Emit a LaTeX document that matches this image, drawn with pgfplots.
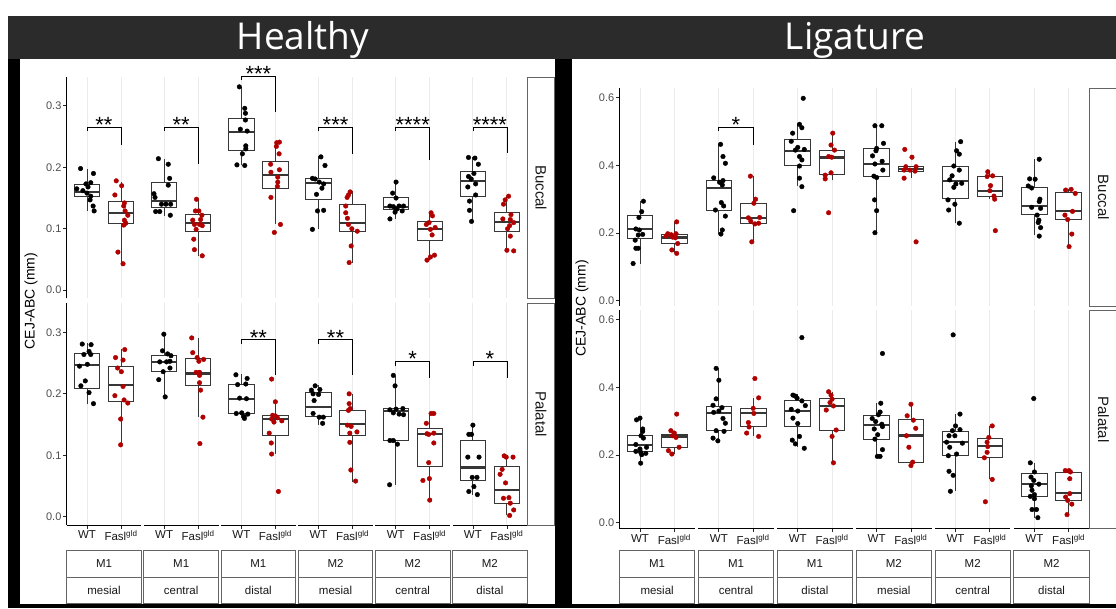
\documentclass[border=0pt]{standalone}
\usepackage{fontspec}
\setmainfont{Liberation Sans}
\newfontfamily\titlefont{Open Sans}
\usepackage{pgfplots}
\pgfplotsset{compat=1.18}
\usepgfplotslibrary{statistics}
\definecolor{ptred}{RGB}{176,0,0}
\definecolor{boxc}{RGB}{55,55,55}
\definecolor{gridc}{RGB}{235,235,235}
\definecolor{tickc}{RGB}{77,77,77}
\definecolor{barc}{RGB}{43,43,43}
\definecolor{stripc}{RGB}{100,100,100}

\newcommand{\bp}[6]{\addplot[boxst, boxplot prepared={draw position=#1, lower whisker=#2, lower quartile=#3, median=#4, upper quartile=#5, upper whisker=#6}] coordinates {};}
\newcommand{\pts}[3]{\addplot[only marks, mark=*, mark size=2.3pt, color=#1, x filter/.expression={x+#2}] coordinates {#3};}
\newcommand{\brk}[7]{%
 \draw[black, line width=0.8pt] (axis cs:#1,#5) -- (axis cs:#1,#4) -- (axis cs:#2,#4) -- (axis cs:#2,#6);
 \node[anchor=base, inner sep=0pt, font=\fontsize{22}{22}\selectfont, yshift=-5.5pt] at (axis cs:#3,#4) {#7};}

\pgfplotsset{
 facet/.style={scale only axis, clip=false,
   axis y line*=left, axis x line*=bottom,
   x axis line style={draw=none},
   y axis line style={black, line width=0.9pt},
   tick align=outside, major tick length=3.5pt,
   ytick style={black!85, line width=0.8pt},
   xtick style={black!85, line width=0.8pt},
   xmajorgrids, major x grid style={gridc, line width=0.9pt},
   yticklabel style={font=\fontsize{11}{11}\selectfont, text=tickc, inner sep=1.5pt},
   xticklabel style={font=\fontsize{11.5}{11.5}\selectfont, text=black!90, inner sep=2pt},
   boxplot/draw direction=y,
 },
 leftf/.style={facet, width=460.7pt, height=221.5pt, xmin=0.4, xmax=13.95, ymin=-0.0135, ymax=0.347,
   xtick={1,2,3.27,4.27,5.54,6.54,7.81,8.81,10.08,11.08,12.35,13.35},
   ytick={0,0.1,0.2,0.3}, yticklabels={0.0,0.1,0.2,0.3}},
 rightf/.style={facet, width=469.9pt, height=218pt, xmin=0.4, xmax=14.1, ymin=-0.017, ymax=0.627,
   xtick={1,2,3.3,4.3,5.6,6.6,7.9,8.9,10.2,11.2,12.5,13.5},
   ytick={0,0.2,0.4,0.6}, yticklabels={0.0,0.2,0.4,0.6}},
 toprow/.style={xticklabels={}, xtick style={draw=none}},
 botrow/.style={xticklabels={WT,Fasl\textsuperscript{gld},WT,Fasl\textsuperscript{gld},WT,Fasl\textsuperscript{gld},WT,Fasl\textsuperscript{gld},WT,Fasl\textsuperscript{gld},WT,Fasl\textsuperscript{gld}}},
 boxst/.style={draw=boxc, fill=white, line width=0.9pt, boxplot/draw direction=y, boxplot/box extend=0.75, boxplot/whisker extend=0, boxplot/every median/.style={line width=2.2pt}},
}

\begin{document}
\begin{tikzpicture}
\path[use as bounding box] (0pt,0pt) rectangle (1116pt,608pt);
\begin{scope}[x=1pt,y=1pt]
\fill[white] (0,0) rectangle (1116,608);
\fill[black] (7.5,0) rectangle (1116,592);
\fill[barc] (7.5,549) rectangle (1116,592);
\fill[white] (20,4) rectangle (555,549);
\fill[white] (572,4) rectangle (1116,549);
\node[anchor=base, text=white, font=\titlefont\fontsize{37}{37}\selectfont] at (303,558) {Healthy};
\node[anchor=base, text=white, font=\titlefont\fontsize{37}{37}\selectfont] at (855,558) {Ligature};
\node[rotate=90, font=\fontsize{14}{14}\selectfont] at (31,307) {CEJ-ABC (mm)};
\node[rotate=90, font=\fontsize{14}{14}\selectfont] at (582,299.5) {CEJ-ABC (mm)};
\end{scope}

% ---------------- Healthy / Buccal
\begin{axis}[leftf, toprow, at={(66.6pt,309.5pt)}, anchor=south west]
\bp{1}{.129}{.152}{.160}{.172}{.197}
\bp{2}{.043}{.109}{.126}{.145}{.176}
\bp{3.27}{.121}{.135}{.145}{.175}{.214}
\bp{4.27}{.056}{.096}{.110}{.123}{.148}
\bp{5.54}{.203}{.227}{.257}{.279}{.331}
\bp{6.54}{.107}{.166}{.187}{.209}{.241}
\bp{7.81}{.099}{.148}{.175}{.182}{.218}
\bp{8.81}{.045}{.096}{.110}{.140}{.161}
\bp{10.08}{.116}{.131}{.136}{.151}{.176}
\bp{11.08}{.049}{.081}{.099}{.112}{.128}
\bp{12.35}{.112}{.153}{.178}{.193}{.217}
\bp{13.35}{.064}{.096}{.111}{.127}{.153}
\pts{black}{1}{(-0.19,.198)(0.19,.190)(0.11,.175)(-0.03,.173)(0.03,.168)(-0.30,.165)(-0.12,.162)(0,.158)(0.11,.153)(0.09,.147)(0.18,.137)(0.21,.129)}
\pts{ptred}{2}{(-0.14,.178)(0.02,.170)(-0.18,.155)(0.10,.142)(0.08,.137)(0.12,.129)(0.20,.122)(0.10,.114)(0.14,.109)(0.08,.106)(-0.09,.062)(0.06,.043)}
\pts{black}{3.27}{(-0.17,.214)(0.12,.205)(0.16,.182)(0.12,.171)(-0.30,.157)(-0.27,.151)(-0.08,.140)(0.05,.140)(0.19,.140)(-0.25,.128)(-0.13,.128)(0.18,.122)}
\pts{ptred}{4.27}{(-0.05,.148)(-0.08,.129)(0.02,.129)(0.11,.122)(-0.16,.114)(0.07,.115)(-0.11,.107)(0.04,.107)(0.12,.105)(-0.06,.099)(-0.13,.083)(-0.11,.066)(0.12,.056)}
\pts{black}{5.54}{(-0.06,.331)(0.10,.296)(0.12,.288)(0.12,.277)(-0.03,.262)(0.17,.259)(0.13,.235)(0.13,.230)(0.03,.222)(-0.13,.204)(0.10,.203)}
\pts{ptred}{6.54}{(0.04,.240)(0.12,.241)(0.03,.234)(0.11,.222)(-0.14,.205)(0.12,.196)(-0.13,.192)(0.07,.184)(0.07,.176)(0.06,.169)(-0.13,.151)(0.15,.107)(-0.03,.094)}
\pts{black}{7.81}{(0.07,.217)(0.19,.203)(-0.18,.182)(-0.10,.181)(0.02,.176)(0.15,.173)(0.10,.166)(-0.06,.156)(-0.03,.129)(0.15,.130)(-0.18,.099)}
\pts{ptred}{8.81}{(-0.07,.160)(-0.12,.155)(-0.16,.151)(-0.20,.137)(-0.20,.126)(-0.15,.117)(-0.12,.107)(-0.02,.100)(0.14,.096)(-0.04,.072)(-0.10,.045)}
\pts{black}{10.08}{(0.01,.176)(-0.09,.158)(0.01,.150)(-0.17,.137)(-0.07,.136)(0.10,.137)(0.23,.137)(0.03,.132)(0.19,.129)(-0.02,.127)(-0.17,.116)}
\pts{ptred}{11.08}{(0.04,.126)(0.08,.121)(-0.02,.110)(-0.10,.107)(0.16,.102)(0.02,.099)(0.07,.090)(0.14,.057)(0.02,.054)(-0.08,.049)}
\pts{black}{12.35}{(-0.13,.216)(0.06,.215)(0.16,.205)(0.03,.190)(-0.13,.185)(-0.05,.181)(-0.15,.168)(0.08,.173)(0.08,.155)(-0.10,.145)(-0.10,.130)(-0.04,.112)}
\pts{ptred}{13.35}{(0.05,.153)(-0.05,.147)(-0.10,.140)(0.12,.123)(-0.12,.116)(0.10,.115)(0.20,.110)(0.08,.105)(0.02,.100)(0.10,.088)(0.00,.065)(0.20,.064)}
\brk{1}{2}{1.5}{.265}{.259}{.236}{**}
\brk{3.27}{4.27}{3.77}{.265}{.259}{.206}{**}
\brk{5.54}{6.54}{6.04}{.3485}{.342}{.290}{***}
\brk{7.81}{8.81}{8.31}{.265}{.259}{.221}{***}
\brk{10.08}{11.08}{10.58}{.265}{.259}{.212}{****}
\brk{12.35}{13.35}{12.85}{.265}{.259}{.223}{****}
\end{axis}

% ---------------- Healthy / Palatal
\begin{axis}[leftf, botrow, at={(66.6pt,83pt)}, anchor=south west]
\bp{1}{.184}{.209}{.247}{.265}{.283}
\bp{2}{.116}{.188}{.214}{.245}{.273}
\bp{3.27}{.195}{.236}{.252}{.263}{.298}
\bp{4.27}{.162}{.214}{.233}{.257}{.291}
\bp{5.54}{.160}{.168}{.192}{.216}{.232}
\bp{6.54}{.102}{.133}{.159}{.165}{.187}
\bp{7.81}{.150}{.163}{.179}{.202}{.214}
\bp{8.81}{.057}{.133}{.151}{.173}{.200}
\bp{10.08}{.052}{.124}{.172}{.176}{.229}
\bp{11.08}{.027}{.081}{.134}{.143}{.168}
\bp{12.35}{.036}{.059}{.080}{.124}{.149}
\bp{13.35}{.002}{.021}{.043}{.082}{.099}
\pts{black}{1}{(-0.14,.281)(0.12,.280)(0.06,.269)(-0.09,.264)(0.11,.264)(-0.22,.245)(0.01,.248)(-0.05,.221)(-0.18,.213)(0.06,.202)(0.19,.184)}
\pts{ptred}{2}{(0.11,.272)(-0.16,.259)(0.06,.255)(-0.10,.242)(0.01,.236)(0.06,.212)(-0.18,.197)(0.09,.190)(0.20,.185)(-0.01,.159)(-0.01,.117)}
\pts{black}{3.27}{(-0.01,.297)(-0.05,.270)(0.10,.265)(0.20,.262)(-0.13,.252)(0.07,.252)(-0.03,.236)(0.17,.242)(-0.16,.223)(0.03,.195)(0.17,.253)}
\pts{ptred}{4.27}{(-0.19,.291)(-0.16,.267)(-0.03,.259)(0.16,.256)(0.02,.253)(-0.06,.235)(0.04,.235)(0.04,.230)(0.04,.218)(0.07,.206)(0.14,.162)(0.05,.119)}
\pts{black}{5.54}{(-0.16,.231)(0.17,.225)(0.13,.216)(-0.11,.215)(0.15,.192)(-0.05,.193)(-0.15,.168)(0.01,.169)(0.08,.163)(0.19,.167)(0.09,.160)}
\pts{ptred}{6.54}{(-0.11,.224)(0.00,.187)(-0.08,.165)(0.00,.164)(0.06,.161)(-0.11,.159)(0.19,.156)(-0.04,.154)(-0.18,.136)(-0.12,.120)(-0.11,.102)(0.09,.041)}
\pts{black}{7.81}{(-0.10,.213)(0.04,.207)(-0.21,.206)(-0.16,.200)(-0.13,.189)(-0.16,.168)(0.02,.162)(0.14,.162)(0.12,.152)(0.0,.199)}
\pts{ptred}{8.81}{(-0.10,.200)(-0.10,.184)(-0.12,.173)(-0.07,.176)(-0.04,.147)(-0.15,.149)(0.13,.138)(-0.08,.136)(-0.08,.121)(-0.05,.076)(0.09,.058)}
\pts{black}{10.08}{(-0.07,.230)(-0.02,.213)(-0.17,.174)(0.01,.175)(0.21,.176)(-0.07,.169)(0.10,.167)(0.23,.166)(-0.17,.124)(-0.07,.124)(0.05,.118)(-0.18,.052)}
\pts{ptred}{11.08}{(0.04,.168)(0.12,.168)(-0.10,.152)(-0.08,.135)(-0.03,.134)(0.12,.136)(0.12,.120)(-0.03,.088)(-0.01,.062)(-0.20,.059)(0.00,.027)}
\pts{black}{12.35}{(0.00,.149)(-0.12,.134)(-0.04,.134)(-0.15,.097)(0.18,.097)(-0.02,.064)(0.12,.064)(0.03,.049)(-0.12,.041)(0.13,.036)}
\pts{ptred}{13.35}{(-0.08,.099)(-0.02,.097)(0.18,.097)(-0.14,.077)(-0.20,.069)(-0.04,.055)(-0.10,.030)(0.06,.031)(0.10,.022)(0.20,.011)(0.08,.002)}
\brk{5.54}{6.54}{6.04}{.288}{.281}{.230}{**}
\brk{7.81}{8.81}{8.31}{.288}{.281}{.230}{**}
\brk{10.08}{11.08}{10.58}{.253}{.246}{.225}{*}
\brk{12.35}{13.35}{12.85}{.253}{.246}{.225}{*}
\draw[black, line width=0.9pt] (axis cs:0.4,-0.0135) -- (axis cs:2.6,-0.0135);
\draw[black, line width=0.9pt] (axis cs:2.67,-0.0135) -- (axis cs:4.87,-0.0135);
\draw[black, line width=0.9pt] (axis cs:4.94,-0.0135) -- (axis cs:7.14,-0.0135);
\draw[black, line width=0.9pt] (axis cs:7.21,-0.0135) -- (axis cs:9.41,-0.0135);
\draw[black, line width=0.9pt] (axis cs:9.48,-0.0135) -- (axis cs:11.68,-0.0135);
\draw[black, line width=0.9pt] (axis cs:11.75,-0.0135) -- (axis cs:13.95,-0.0135);
\end{axis}

% ---------------- Ligature / Buccal
\begin{axis}[rightf, toprow, at={(619.4pt,301.5pt)}, anchor=south west]
\bp{1}{.110}{.184}{.211}{.251}{.296}
\bp{2}{.140}{.169}{.187}{.197}{.233}
\bp{3.3}{.197}{.268}{.333}{.355}{.462}
\bp{4.3}{.174}{.227}{.245}{.288}{.369}
\bp{5.6}{.339}{.401}{.442}{.475}{.522}
\bp{6.6}{.357}{.373}{.423}{.445}{.497}
\bp{7.9}{.201}{.368}{.404}{.450}{.517}
\bp{8.9}{.362}{.383}{.390}{.398}{.398}
\bp{10.2}{.229}{.302}{.353}{.398}{.470}
\bp{11.2}{.300}{.307}{.324}{.367}{.381}
\bp{12.5}{.194}{.256}{.280}{.335}{.418}
\bp{13.5}{.160}{.240}{.265}{.319}{.329}
\pts{black}{1}{(0.10,.294)(0.05,.263)(-0.03,.246)(-0.12,.212)(-0.02,.209)(0.08,.196)(-0.05,.194)(-0.14,.179)(-0.05,.155)(-0.12,.155)(-0.20,.110)}
\pts{ptred}{2}{(0.07,.233)(-0.19,.198)(-0.09,.195)(0.05,.198)(-0.24,.191)(-0.05,.188)(0.03,.186)(0.10,.169)(-0.07,.150)(0.07,.140)}
\pts{black}{3.3}{(0.05,.462)(0.12,.426)(0.19,.406)(-0.15,.363)(0.12,.355)(0.02,.350)(0.10,.342)(0.07,.290)(0.14,.280)(-0.10,.268)(0.19,.250)(0.10,.209)(0.06,.197)}
\pts{ptred}{4.3}{(-0.08,.368)(0.07,.300)(0.02,.288)(-0.14,.245)(0.19,.246)(-0.07,.235)(0.05,.227)(0.16,.229)(-0.04,.174)}
\pts{black}{5.6}{(0.16,.598)(0.05,.521)(0.12,.511)(-0.15,.495)(-0.19,.471)(0.00,.453)(0.19,.447)(-0.07,.445)(0.05,.426)(0.12,.416)(0.05,.398)(0.05,.362)(0.12,.337)(-0.12,.266)}
\pts{ptred}{6.6}{(0.02,.495)(-0.03,.460)(0.07,.445)(-0.10,.426)(-0.01,.424)(-0.20,.371)(-0.03,.378)(-0.20,.360)(-0.10,.260)}
\pts{black}{7.9}{(-0.05,.517)(0.15,.517)(0.20,.465)(0.00,.450)(-0.02,.443)(-0.12,.428)(0.16,.412)(-0.05,.404)(0.18,.386)(-0.08,.368)(0.00,.364)(-0.06,.298)(0.00,.266)(-0.05,.201)}
\pts{ptred}{8.9}{(-0.18,.447)(0.03,.424)(-0.15,.396)(0.15,.396)(-0.20,.386)(-0.03,.386)(0.12,.383)(-0.20,.362)(0.15,.174)}
\pts{black}{10.2}{(0.15,.470)(0.03,.443)(0.11,.433)(-0.05,.398)(0.11,.386)(-0.10,.369)(-0.17,.357)(0.01,.345)(0.18,.347)(-0.05,.335)(-0.22,.298)(-0.02,.285)(-0.20,.268)(0.11,.229)}
\pts{ptred}{11.2}{(-0.06,.381)(0.08,.369)(-0.08,.367)(0.02,.340)(0.00,.325)(0.12,.309)(0.14,.300)(0.16,.207)}
\pts{black}{12.5}{(0.14,.418)(-0.14,.360)(0.02,.359)(-0.18,.339)(-0.08,.333)(0.16,.300)(0.14,.293)(-0.08,.276)(0.18,.273)(0.08,.253)(0.13,.238)(0.11,.231)(0.18,.216)(0.14,.191)}
\pts{ptred}{13.5}{(-0.09,.327)(0.07,.329)(0.19,.317)(0.11,.264)(-0.11,.253)(-0.03,.240)(0.09,.197)(0.01,.160)}
\brk{3.3}{4.3}{3.8}{.512}{.502}{.460}{*}
\end{axis}

% ---------------- Ligature / Palatal
\begin{axis}[rightf, botrow, at={(619.4pt,79.5pt)}, anchor=south west]
\bp{1}{.176}{.212}{.230}{.257}{.309}
\bp{2}{.203}{.223}{.255}{.260}{.272}
\bp{3.3}{.242}{.272}{.324}{.345}{.456}
\bp{4.3}{.255}{.283}{.324}{.337}{.368}
\bp{5.6}{.225}{.283}{.330}{.362}{.379}
\bp{6.6}{.177}{.274}{.345}{.368}{.387}
\bp{7.9}{.196}{.245}{.289}{.316}{.353}
\bp{8.9}{.169}{.179}{.258}{.304}{.350}
\bp{10.2}{.093}{.198}{.238}{.270}{.321}
\bp{11.2}{.128}{.192}{.226}{.250}{.286}
\bp{12.5}{.015}{.078}{.114}{.145}{.177}
\bp{13.5}{.022}{.066}{.088}{.150}{.159}
\pts{black}{1}{(0.00,.309)(-0.10,.304)(0.08,.277)(0.08,.270)(0.03,.257)(0.10,.250)(-0.12,.231)(0.19,.223)(0.00,.218)(-0.12,.211)(0.02,.208)(0.17,.205)(0.05,.201)(0.02,.176)}
\pts{ptred}{2}{(0.07,.321)(-0.10,.272)(0.00,.265)(-0.05,.257)(0.05,.252)(0.14,.223)(-0.17,.213)(-0.07,.203)}
\pts{black}{3.3}{(-0.08,.456)(0.00,.421)(-0.08,.366)(-0.17,.347)(0.00,.330)(0.09,.340)(-0.15,.326)(0.12,.308)(0.19,.294)(-0.08,.272)(0.15,.270)(-0.17,.250)(-0.03,.242)}
\pts{ptred}{4.3}{(0.05,.426)(0.16,.369)(0.00,.338)(0.02,.323)(-0.14,.296)(-0.12,.283)(-0.19,.265)(0.16,.255)}
\pts{black}{5.6}{(0.12,.547)(-0.14,.377)(-0.07,.374)(-0.02,.368)(0.12,.360)(0.22,.346)(-0.19,.335)(0.00,.330)(-0.14,.309)(0.00,.293)(0.05,.255)(-0.16,.244)(-0.07,.233)(0.19,.220)}
\pts{ptred}{6.6}{(-0.10,.387)(-0.03,.377)(0.00,.365)(-0.06,.355)(0.04,.345)(-0.17,.333)(0.00,.255)(0.12,.274)(0.04,.177)}
\pts{black}{7.9}{(0.17,.500)(0.12,.353)(0.10,.327)(0.05,.319)(-0.13,.308)(-0.03,.299)(0.15,.291)(0.17,.284)(-0.07,.277)(-0.05,.247)(0.03,.260)(0.17,.216)(0.02,.196)(0.10,.196)}
\pts{ptred}{8.9}{(0.00,.350)(-0.11,.316)(0.07,.303)(0.14,.279)(-0.13,.257)(-0.06,.223)(0.05,.179)(0.00,.169)}
\pts{black}{10.2}{(-0.07,.555)(0.13,.321)(0.00,.286)(-0.09,.272)(0.13,.275)(-0.19,.257)(-0.02,.257)(0.20,.235)(-0.26,.238)(-0.17,.223)(0.03,.203)(-0.21,.198)(-0.19,.152)(-0.07,.140)(-0.15,.093)}
\pts{ptred}{11.2}{(0.07,.286)(-0.03,.252)(-0.08,.238)(-0.06,.225)(-0.08,.208)(-0.16,.192)(0.07,.128)(-0.13,.062)}
\pts{black}{12.5}{(-0.02,.367)(-0.12,.177)(0.00,.150)(-0.10,.135)(-0.02,.125)(0.13,.114)(-0.09,.109)(-0.07,.096)(0.00,.083)(-0.12,.078)(0.00,.071)(-0.07,.039)(0.06,.039)(0.10,.015)}
\pts{ptred}{13.5}{(-0.10,.154)(0.01,.154)(0.05,.150)(0.03,.130)(0.03,.086)(-0.09,.076)(-0.03,.066)(0.09,.055)(-0.05,.024)}
\draw[black, line width=0.9pt] (axis cs:0.4,-0.017) -- (axis cs:2.6,-0.017);
\draw[black, line width=0.9pt] (axis cs:2.7,-0.017) -- (axis cs:4.9,-0.017);
\draw[black, line width=0.9pt] (axis cs:5.0,-0.017) -- (axis cs:7.2,-0.017);
\draw[black, line width=0.9pt] (axis cs:7.3,-0.017) -- (axis cs:9.5,-0.017);
\draw[black, line width=0.9pt] (axis cs:9.6,-0.017) -- (axis cs:11.8,-0.017);
\draw[black, line width=0.9pt] (axis cs:11.9,-0.017) -- (axis cs:14.1,-0.017);
\end{axis}

% ---------------- strips
\begin{scope}[x=1pt,y=1pt]
\draw[stripc, line width=0.9pt, fill=white] (527.3,309.5) rectangle (554.5,531);
\draw[stripc, line width=0.9pt, fill=white] (527.3,83) rectangle (554.5,304.5);
\node[rotate=-90, font=\fontsize{15}{15}\selectfont, text=black!90] at (541,420.25) {Buccal};
\node[rotate=-90, font=\fontsize{15}{15}\selectfont, text=black!90] at (541,193.75) {Palatal};
\draw[stripc, line width=0.9pt, fill=white] (1089.3,301.5) rectangle (1125,519.5);
\draw[stripc, line width=0.9pt, fill=white] (1089.3,79.5) rectangle (1125,297.5);
\node[rotate=-90, font=\fontsize{15}{15}\selectfont, text=black!90] at (1103.5,410.5) {Buccal};
\node[rotate=-90, font=\fontsize{15}{15}\selectfont, text=black!90] at (1103.5,188.5) {Palatal};
\foreach \k/\a/\b in {0/M1/mesial,1/M1/central,2/M1/distal,3/M2/mesial,4/M2/central,5/M2/distal}{
  \pgfmathsetmacro\xl{66.6+77.18*\k}
  \pgfmathsetmacro\xr{\xl+74.8}
  \pgfmathsetmacro\xc{\xl+37.4}
  \draw[stripc, line width=0.9pt, fill=white] (\xl,31) rectangle (\xr,58);
  \draw[stripc, line width=0.9pt, fill=white] (\xl,5) rectangle (\xr,31);
  \node[font=\fontsize{11.5}{11.5}\selectfont, text=black!90] at (\xc,44.5) {\a};
  \node[font=\fontsize{11.5}{11.5}\selectfont, text=black!90] at (\xc,18) {\b};
  \pgfmathsetmacro\yl{619.4+78.89*\k}
  \pgfmathsetmacro\yr{\yl+75.46}
  \pgfmathsetmacro\yc{\yl+37.73}
  \draw[stripc, line width=0.9pt, fill=white] (\yl,31) rectangle (\yr,58);
  \draw[stripc, line width=0.9pt, fill=white] (\yl,5) rectangle (\yr,31);
  \node[font=\fontsize{11.5}{11.5}\selectfont, text=black!90] at (\yc,44.5) {\a};
  \node[font=\fontsize{11.5}{11.5}\selectfont, text=black!90] at (\yc,18) {\b};
}
\end{scope}
\end{tikzpicture}
\end{document}
